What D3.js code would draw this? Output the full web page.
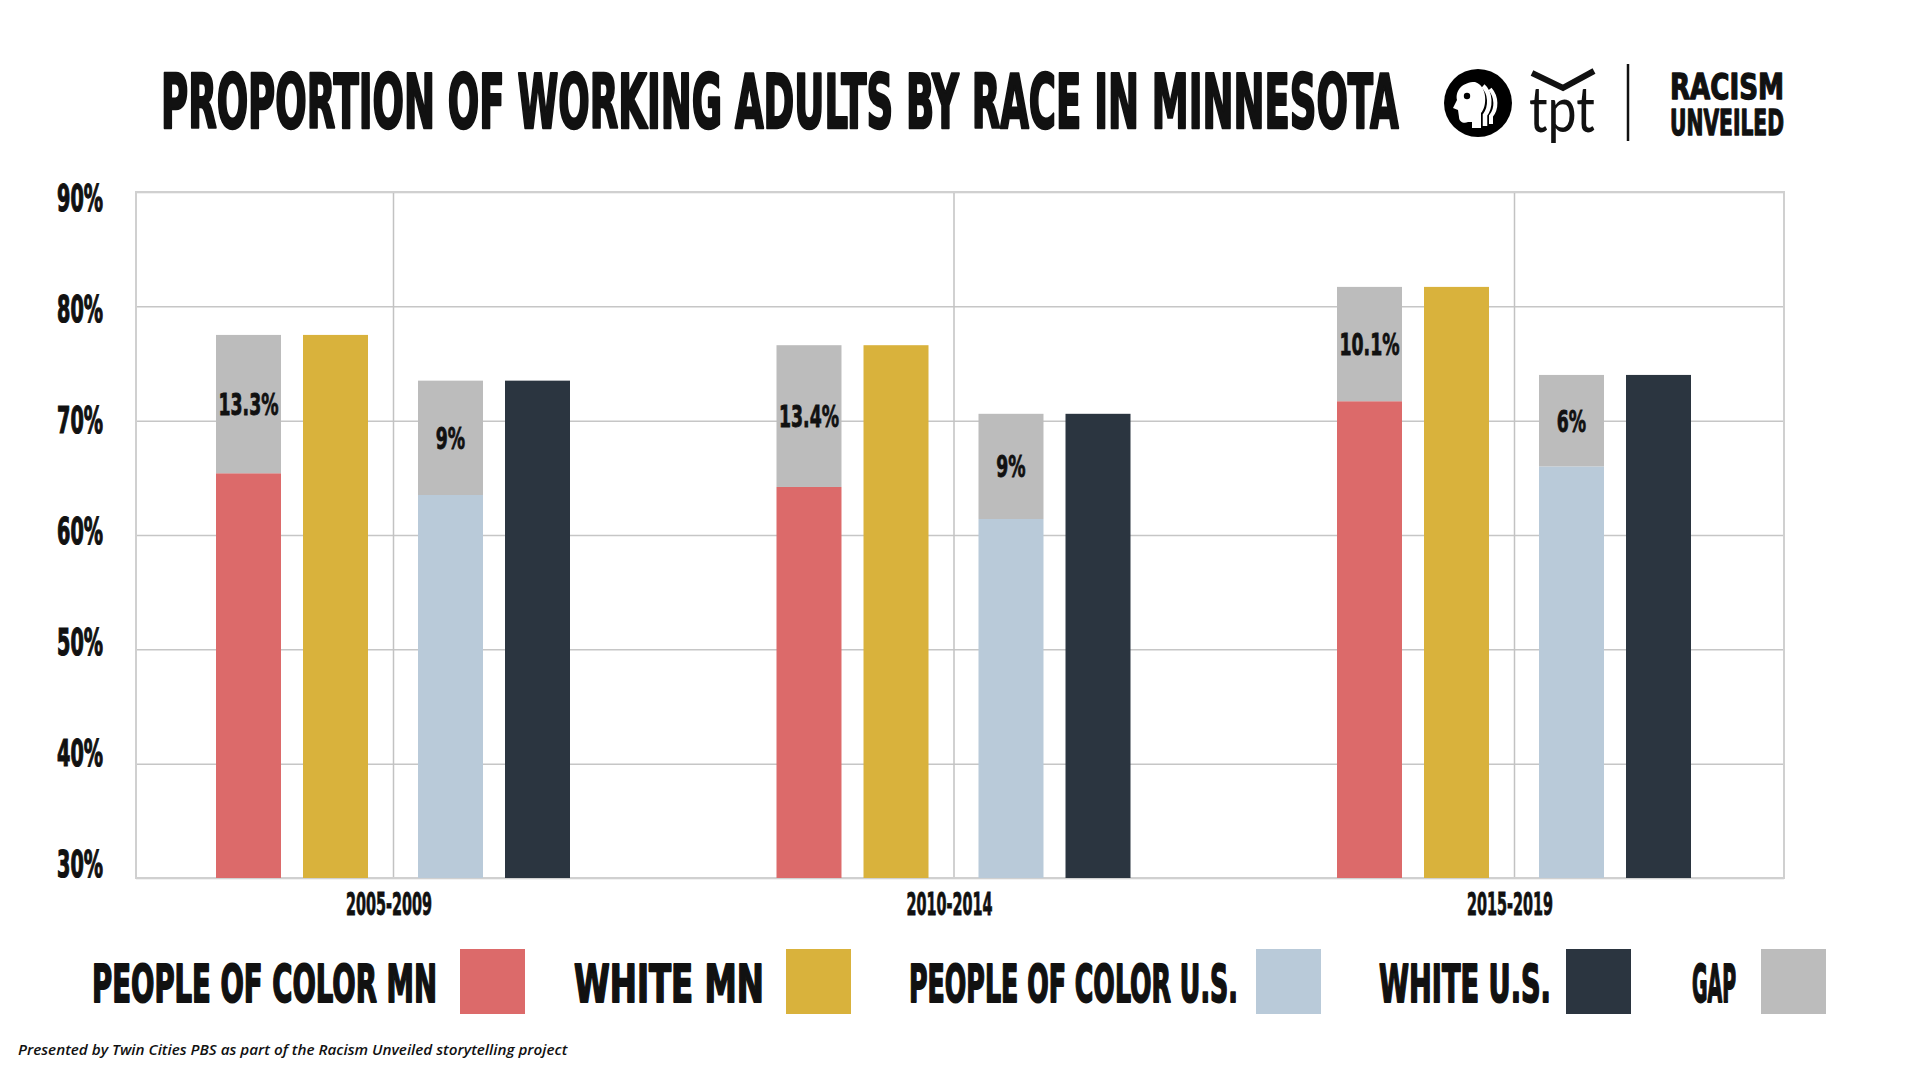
<!DOCTYPE html>
<html><head><meta charset="utf-8">
<script src="https://cdn.jsdelivr.net/npm/d3@7"></script>
<style>body{margin:0;background:#fff}</style>
</head><body>
<svg id="c" width="1920" height="1080" xmlns="http://www.w3.org/2000/svg"></svg>
<script>
// ---------- data ----------
const categories = ["2005-2009", "2010-2014", "2015-2019"];
const pocMN   = [65.4, 64.2, 71.7];
const whiteMN = [77.5, 76.6, 81.7];
const pocUS   = [63.5, 61.4, 66.0];
const whiteUS = [73.5, 70.6, 74.0];
const gapMNLabels = ["13.3%", "13.4%", "10.1%"];
const gapUSLabels = ["9%", "9%", "6%"];
const yTicks = [30, 40, 50, 60, 70, 80, 90];
const regions = ["MN", "US"];
const legendNames = ["PEOPLE OF COLOR MN", "WHITE MN", "PEOPLE OF COLOR U.S.", "WHITE U.S.", "GAP"];

// ---------- styles ----------
const colors = { pocMN: "#DC6A6A", whiteMN: "#D9B23C", pocUS: "#B9CAD9", whiteUS: "#2B3540", gap: "#BCBCBC" };
const NARROW = "'Liberation Sans Narrow','DejaVu Sans Condensed','Roboto Condensed',sans-serif";

const svg = d3.select("#c");
const M = { left: 136, right: 1784, top: 192, bottom: 878 };

const y = d3.scaleLinear().domain([30, 90]).range([M.bottom, M.top]);
const yLab = d3.scaleLinear().domain([30, 90]).range([863, 197]);
const x = d3.scalePoint().domain(categories).range([393, 1514]);
const pair = d3.scaleBand().domain(regions).range([-177, 177]).paddingInner(0.2475);
const inner = d3.scaleBand().domain([0, 1]).range([0, pair.bandwidth()]).paddingInner(0.253);

// horizontally squeeze a text (placed at its own origin) to a target width via transform
function fit(sel, tx, ty, width) {
  sel.each(function (d, i) {
    const w = this.getComputedTextLength();
    const W = typeof width === "function" ? width.call(this, d, i, w) : width;
    const X = typeof tx === "function" ? tx(d, i) : tx;
    const Y = typeof ty === "function" ? ty(d, i) : ty;
    d3.select(this).attr("x", 0).attr("y", 0)
      .attr("transform", `translate(${X},${Y}) scale(${W / w},1)`);
  });
}

// ---------- grid ----------
const grid = svg.append("g");
grid.append("g")
  .attr("transform", `translate(${M.left},0)`)
  .call(d3.axisLeft(y).tickValues(yTicks).tickSize(-(M.right - M.left)).tickFormat(""))
  .call(g => g.select(".domain").remove())
  .call(g => g.selectAll("line").attr("stroke", "#c6c6c6").attr("stroke-width", 1.5));
grid.append("g")
  .attr("transform", `translate(0,${M.top})`)
  .call(d3.axisBottom(x).tickSize(M.bottom - M.top).tickFormat(""))
  .call(g => g.select(".domain").remove())
  .call(g => g.selectAll("line").attr("stroke", "#c2c2c2").attr("stroke-width", 1.5));
grid.append("rect")
  .attr("x", M.left).attr("y", M.top)
  .attr("width", M.right - M.left).attr("height", M.bottom - M.top)
  .attr("fill", "none").attr("stroke", "#d0d0d0").attr("stroke-width", 2);

// ---------- bars ----------
const bars = [];
categories.forEach((c, i) => {
  bars.push({ c, r: "MN", k: 0, lo: 30, hi: pocMN[i], fill: colors.pocMN });
  bars.push({ c, r: "MN", k: 0, lo: pocMN[i], hi: whiteMN[i], fill: colors.gap, label: gapMNLabels[i] });
  bars.push({ c, r: "MN", k: 1, lo: 30, hi: whiteMN[i], fill: colors.whiteMN });
  bars.push({ c, r: "US", k: 0, lo: 30, hi: pocUS[i], fill: colors.pocUS });
  bars.push({ c, r: "US", k: 0, lo: pocUS[i], hi: whiteUS[i], fill: colors.gap, label: gapUSLabels[i] });
  bars.push({ c, r: "US", k: 1, lo: 30, hi: whiteUS[i], fill: colors.whiteUS });
});
const bx = d => x(d.c) + pair(d.r) + inner(d.k);
svg.append("g").selectAll("rect").data(bars).join("rect")
  .attr("x", bx).attr("width", inner.bandwidth())
  .attr("y", d => y(d.hi)).attr("height", d => y(d.lo) - y(d.hi))
  .attr("fill", d => d.fill);

svg.append("g").selectAll("text").data(bars.filter(d => d.label)).join("text")
  .attr("text-anchor", "middle")
  .attr("font-family", NARROW).attr("font-weight", 700).attr("font-size", 30)
  .attr("fill", "#111").attr("stroke", "#111").attr("stroke-width", 0.8)
  .text(d => d.label)
  .call(fit, d => bx(d) + inner.bandwidth() / 2, d => (y(d.lo) + y(d.hi)) / 2 + 11,
        function (d, i, w) { return w * 0.64; });

// ---------- axis labels ----------
svg.append("g").selectAll("text").data(yTicks).join("text")
  .attr("text-anchor", "middle")
  .attr("font-family", NARROW).attr("font-weight", 700).attr("font-size", 37)
  .attr("fill", "#111").attr("stroke", "#111").attr("stroke-width", 1.2)
  .text(d => d + "%")
  .call(fit, 80, d => yLab(d) + 13.5, 46);

svg.append("g").selectAll("text").data(categories).join("text")
  .attr("text-anchor", "middle")
  .attr("font-family", NARROW).attr("font-weight", 700).attr("font-size", 32)
  .attr("fill", "#111").attr("stroke", "#111").attr("stroke-width", 0.8)
  .text(d => d)
  .call(fit, d => x(d) - 4, 915, 86);

// ---------- heavy condensed text helper ----------
function heavy(g, str, xPos, yPos, size, width, sw) {
  return g.append("text")
    .attr("font-family", NARROW).attr("font-weight", 700)
    .attr("font-size", size).attr("fill", "#111")
    .attr("stroke", "#111").attr("stroke-width", sw).attr("stroke-linejoin", "round")
    .text(str)
    .call(fit, xPos, yPos, width);
}

// ---------- title ----------
heavy(svg, "PROPORTION OF WORKING ADULTS BY RACE IN MINNESOTA", 161, 128, 74, 1238, 2.6);

// ---------- legend ----------
const legendFill = [colors.pocMN, colors.whiteMN, colors.pocUS, colors.whiteUS, colors.gap];
const legendTextX = [92, 574, 909, 1379, 1692];
const legendTextW = [345, 190, 329, 172, 44];
const legendSwX = [460, 786, 1256, 1566, 1761];
const lg = svg.append("g");
legendNames.forEach((n, i) => {
  heavy(lg, n, legendTextX[i], 1002, 52, legendTextW[i], 1.8);
  lg.append("rect").attr("x", legendSwX[i]).attr("y", 949).attr("width", 65).attr("height", 65)
    .attr("fill", legendFill[i]);
});

// ---------- footer ----------
svg.append("text")
  .attr("font-family", "'Open Sans',sans-serif").attr("font-style", "italic").attr("font-weight", 600)
  .attr("font-size", 15).attr("fill", "#111")
  .text("Presented by Twin Cities PBS as part of the Racism Unveiled storytelling project")
  .call(fit, 18, 1055, 550);

// ---------- logos ----------
const logo = svg.append("g");
const pbs = logo.append("g").attr("transform", "translate(1478,103)");
pbs.append("circle").attr("r", 34).attr("fill", "#000");
pbs.append("path").attr("fill", "#fff")
  .attr("d", "M-3,-21 C-15,-21 -23,-13 -21,-3 L-25,5 L-20,7 L-19,14 C-19,19 -14,21 -10,19 L-6,19 L-6,25 L3,25 L3,10 C9,4 10,-17 -3,-21 Z");
pbs.append("circle").attr("cx", -11).attr("cy", -7).attr("r", 3.2).attr("fill", "#000");
pbs.append("path").attr("fill", "none").attr("stroke", "#fff").attr("stroke-width", 4.5)
  .attr("d", "M5,-17 C13,-10 13,4 7,12 L7,23");
pbs.append("path").attr("fill", "none").attr("stroke", "#fff").attr("stroke-width", 4)
  .attr("d", "M12,-14 C19,-6 19,6 13,13 L13,21");

logo.append("text")
  .attr("font-family", "Lato,'Open Sans',sans-serif").attr("font-weight", 400)
  .attr("font-size", 64).attr("fill", "#111")
  .text("tpt")
  .call(fit, 1529, 132, 66);
logo.append("path").attr("fill", "none").attr("stroke", "#111").attr("stroke-width", 6)
  .attr("d", "M1532,73 L1563,88 L1594,71");

logo.append("line").attr("x1", 1628).attr("x2", 1628).attr("y1", 64).attr("y2", 141)
  .attr("stroke", "#111").attr("stroke-width", 2.5);

const brand = logo.append("text")
  .attr("font-family", NARROW).attr("font-weight", 700)
  .attr("font-size", 36).attr("fill", "#111")
  .attr("stroke", "#111").attr("stroke-width", 1.3).attr("stroke-linejoin", "round");
brand.append("tspan").attr("x", 1670).attr("y", 99)
  .attr("textLength", 114).attr("lengthAdjust", "spacingAndGlyphs").text("RACISM");
brand.append("tspan").attr("x", 1670).attr("y", 135)
  .attr("textLength", 114).attr("lengthAdjust", "spacingAndGlyphs").text("UNVEILED");
</script>
</body></html>
